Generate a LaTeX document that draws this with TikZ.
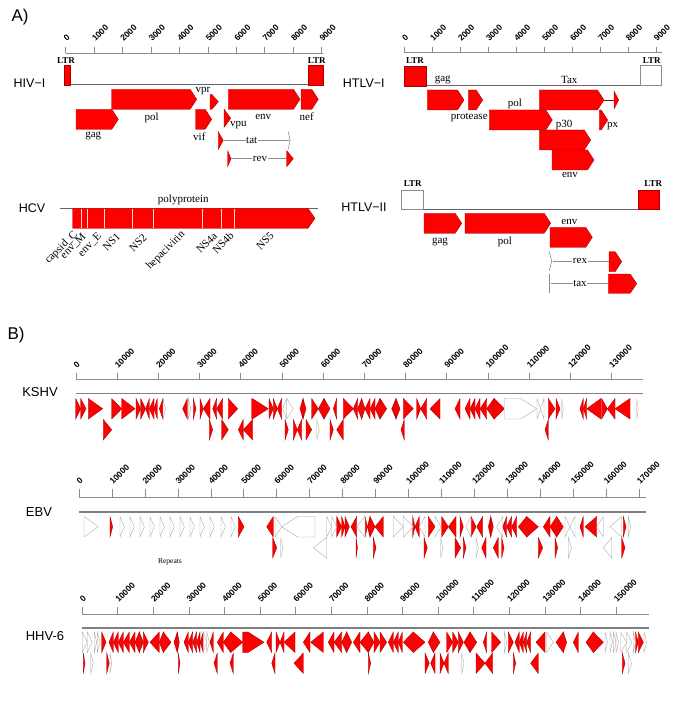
\documentclass[tikz,border=0pt]{standalone}
\usepackage{fontspec}
\setmainfont{Liberation Serif}
\setsansfont{Liberation Sans}
\newcommand{\arR}[6]{%
  \pgfmathsetmacro{\hx}{max(#1,#2-#5)}%
  \pgfmathsetmacro{\ym}{#3+#4/2}\pgfmathsetmacro{\yb}{#3+#4}%
  \filldraw[fill=#6,draw=#6!65!black,line width=0.35pt] (#1,#3) -- (\hx,#3) -- (#2,\ym) -- (\hx,\yb) -- (#1,\yb) -- cycle;}
\newcommand{\arL}[6]{%
  \pgfmathsetmacro{\hx}{min(#2,#1+#5)}%
  \pgfmathsetmacro{\ym}{#3+#4/2}\pgfmathsetmacro{\yb}{#3+#4}%
  \filldraw[fill=#6,draw=#6!65!black,line width=0.35pt] (#2,#3) -- (\hx,#3) -- (#1,\ym) -- (\hx,\yb) -- (#2,\yb) -- cycle;}
\newcommand{\oR}[4]{\arR{#1}{#2}{#3}{20.5}{16}{#4}}
\newcommand{\oL}[4]{\arL{#1}{#2}{#3}{20.5}{16}{#4}}
\newcommand{\gR}[3]{\arR{#1}{#2}{#3}{20}{6.5}{red}}
\begin{document}
\begin{tikzpicture}[x=1pt,y=-1pt,
  axln/.style={draw=black!45,line width=0.6pt},
  gline/.style={draw=black!60,line width=1pt},
  bgline/.style={draw=black!50,line width=1.8pt},
  glab/.style={font=\fontsize{11}{12}\selectfont,inner sep=0.5pt},
  tlab/.style={font=\sffamily\bfseries\fontsize{8.5}{9}\selectfont,rotate=45,anchor=west,inner sep=0pt},
  vname/.style={font=\sffamily\fontsize{12.5}{14}\selectfont,inner sep=0pt},
  ltrlab/.style={font=\bfseries\fontsize{9}{10}\selectfont,inner sep=0pt},
  panel/.style={font=\sffamily\fontsize{17}{19}\selectfont,inner sep=0pt},
  redbox/.style={fill=red,draw=red!65!black,line width=0.35pt},
  whitebox/.style={fill=white,draw=black!45,line width=0.6pt},
  hcvlab/.style={font=\fontsize{11}{12}\selectfont,rotate=45,anchor=east,inner sep=0pt}]
\useasboundingbox (0,0) rectangle (685,708);
\fill[white] (0,0) rectangle (685,708);

\node[panel] (pa) at (20,17) {A)};
\node[panel] (pb) at (16,335) {B)};

% ---------------- HIV-I
\node[vname] (hivn) at (29.5,83.3) {HIV−I};
\draw[axln] (65.7,53.3) -- (323,53.3);
\foreach \i in {0,...,9}{
  \draw[axln] (65.7+\i*28.44,46.7) -- (65.7+\i*28.44,53.3);
  \node[tlab] (hivt\i) at (64.9+\i*28.44,40) {\ifnum\i=0 0\else\i000\fi};}
\node[ltrlab] (hivl1) at (66,61) {LTR};
\node[ltrlab] (hivl2) at (316.7,61) {LTR};
\draw[gline] (65.7,85) -- (323.3,85);
\filldraw[redbox] (64.3,65) rectangle (70,85);
\filldraw[redbox] (308.3,65) rectangle (323.3,85);
\gR{111.7}{196.7}{89.3}
\arR{210}{218.3}{94.3}{15}{6.5}{red}
\gR{228.3}{300}{89.3}
\gR{301}{318.3}{89.3}
\gR{76}{118.3}{109.3}
\gR{195.7}{211.7}{109.3}
\arR{224}{230.7}{109.3}{18}{6.5}{red}
\node[glab] (hgag) at (93.3,136) {gag};
\node[glab] (hpol) at (151.7,118.3) {pol};
\node[glab] (hvif) at (199.3,137) {vif};
\node[glab] (henv) at (263.3,116.7) {env};
\node[glab] (hnef) at (306.7,116.7) {nef};
\node[glab] (hvpu) at (238.3,125.5) {vpu};
\node[glab] (hvpr) at (203,91.5) {vpr};
\arR{218.3}{223.3}{131.7}{17.6}{6.5}{red}
\draw[draw=black!45,line width=0.5pt] (223.3,140.5) -- (288.5,140.5);
\draw[draw=black!45,line width=0.6pt] (288.3,131.7) -- (290,140.5) -- (288.3,149.3);
\node[glab,fill=white] (htat) at (251.7,140.5) {tat};
\arR{227.7}{231}{150.7}{16}{6.5}{red}
\draw[draw=black!45,line width=0.5pt] (231,158.7) -- (286.7,158.7);
\arR{286.7}{293.3}{150.7}{16}{6.5}{red}
\node[glab,fill=white] (hrev) at (260,158.7) {rev};

% ---------------- HTLV-I
\node[vname] (htn) at (363.8,83.3) {HTLV−I};
\draw[axln] (404.3,52.7) -- (661.7,52.7);
\foreach \i in {0,...,9}{
  \draw[axln] (404.3+\i*27.97,46.7) -- (404.3+\i*27.97,52.7);
  \node[tlab] (htt\i) at (403.5+\i*27.97,40) {\ifnum\i=0 0\else\i000\fi};}
\node[ltrlab] (htl1) at (415,61) {LTR};
\node[ltrlab] (htl2) at (651.7,61) {LTR};
\draw[gline] (404.3,85.7) -- (661.7,85.7);
\filldraw[redbox] (404.3,65.7) rectangle (426,85.7);
\filldraw[whitebox] (640,65.7) rectangle (661.7,85.7);
\gR{427.3}{464}{90}
\gR{468.3}{482.7}{90}
\gR{539.3}{604}{90}
\draw[draw=red!70!black,line width=0.5pt] (604,100) -- (614,100);
\arR{614}{618.7}{91}{18}{6.5}{red}
\gR{489.3}{552.3}{110}
\gR{599.3}{607.7}{110}
\gR{539.3}{590.7}{130}
\gR{552}{594}{150}
\node[glab] (tgag) at (442.7,80) {gag};
\node[glab] (ttax) at (569.3,80) {Tax};
\node[glab] (tprot) at (469.3,117.3) {protease};
\node[glab] (tpol) at (515,104) {pol};
\node[glab] (tpx) at (612.7,126.5) {px};
\node[glab] (tp30) at (564,125) {p30};
\node[glab] (tenv) at (570,175) {env};

% ---------------- HCV
\node[vname] (hcvn) at (32,208.3) {HCV};
\draw[gline] (60,208.3) -- (318.3,208.3);
\node[glab] (hcvpp) at (183.3,199.5) {polyprotein};
\arR{72.7}{315}{208.3}{20}{7}{red}
\foreach \x in {81.7,87.3,104,132.3,153.3,202.7,221.7,234.3}
  \draw[white!85!red,line width=0.9pt] (\x,209) -- (\x,227.8);
\node[hcvlab] (c1) at (76,233) {capsid\_C};
\node[hcvlab] (c2) at (84.5,235) {env\_M};
\node[hcvlab] (c3) at (100,235) {env\_E};
\node[hcvlab] (c4) at (118.5,235) {NS1};
\node[hcvlab] (c5) at (145,235.5) {NS2};
\node[hcvlab] (c6) at (183.5,233) {hepacivirin};
\node[hcvlab] (c7) at (215.5,234) {NS4a};
\node[hcvlab] (c8) at (232,234) {NS4b};
\node[hcvlab] (c9) at (272,234) {NS5};

% ---------------- HTLV-II
\node[vname] (ht2n) at (364,207.7) {HTLV−II};
\node[ltrlab] (h2l1) at (412.7,184) {LTR};
\node[ltrlab] (h2l2) at (653.3,184) {LTR};
\draw[gline] (401.7,209.3) -- (659,209.3);
\filldraw[whitebox] (401.7,190) rectangle (423.3,209.3);
\filldraw[redbox] (637.7,190) rectangle (659,209.3);
\gR{424}{461.7}{213.3}
\gR{465}{550.7}{213.3}
\gR{550}{592.3}{227.3}
\node[glab] (h2gag) at (440,241.7) {gag};
\node[glab] (h2pol) at (505,241.7) {pol};
\node[glab] (h2env) at (569.3,221.7) {env};
\draw[draw=black!45,line width=0.6pt] (549.3,251.7) -- (551.7,261) -- (549.3,270.7);
\draw[draw=black!45,line width=0.5pt] (553,261) -- (609,261);
\arR{609}{621.7}{251.7}{20}{6.5}{red}
\node[glab,fill=white] (h2rex) at (580,261) {rex};
\draw[draw=black!45,line width=0.6pt] (549.3,274) -- (549.3,293.3);
\draw[draw=black!45,line width=0.5pt] (551,283.6) -- (608.3,283.6);
\arR{608.3}{636.7}{274}{19.3}{6.5}{red}
\node[glab,fill=white] (h2tax) at (580,283.6) {tax};

% ---------------- KSHV
\node[vname,font=\sffamily\fontsize{13}{15}\selectfont] (kn) at (40,392.5) {KSHV};
\draw[axln] (75.9,379.3) -- (643.3,379.3);
\foreach \i in {0,...,13}{
  \draw[axln] (75.9+\i*41.2,372.7) -- (75.9+\i*41.2,379.3);
  \node[tlab] (kt\i) at (74.9+\i*41.2,366.5) {\ifnum\i=0 0\else\i0000\fi};}
\draw[bgline] (75.9,393.5) -- (643.3,393.5);
\foreach \xa/\xb/\xp in {75.7/80.7/R, 80.7/86/R, 88.3/102.7/R, 111.7/121.7/R, 121.7/135/R, 136/140.7/R, 140.7/145.7/R, 145.7/149.3/L, 149.3/154/L, 154/157.3/L, 159.3/163/L, 182.7/187.3/L, 193.3/196/R, 200/203.3/R, 203.3/210/L, 212.7/216.7/L, 216.7/222.7/L, 228.3/237.7/R, 251.7/268.3/R, 269/273.3/R, 273.3/277.3/R, 277.3/281.7/L, 300/303/L, 303/306/R, 311.7/318.3/R, 318.3/324/L, 324/330/R, 333.3/336.7/L, 343.3/353.3/R, 353.3/357.7/L, 357.7/361.7/L, 361.7/365/R, 365/370/L, 370/375/L, 375/380/L, 380/386.7/R, 391.7/396/L, 396/400/R, 403.3/413.3/R, 416.7/420.7/R, 420.7/426.7/L, 430/440/L, 455/460/L, 465/470/L, 470/475/L, 475/480/L, 480/486.7/L, 486.7/494/L, 494/504.3/R, 548.3/555/R, 556/560/R, 580/583.3/L, 583.3/586.7/L, 586.7/601/L, 601.7/607.3/R, 607.3/615/L, 615/630/L}
  {\csname o\xp\endcsname{\xa}{\xb}{398.5}{red}}
\foreach \xa/\xb/\xp in {163/165.5/R, 188.3/190.7/R, 282.7/286.7/L, 286.7/293.3/R, 504.3/536.7/R, 537/540.5/R, 540.5/544/L, 561.7/563.3/R, 636.7/638.3/R}
  {\csname o\xp\endcsname{\xa}{\xb}{398.5}{white}}
\foreach \xa/\xb/\xp in {103.3/111.7/R, 209.3/212.7/R, 221.7/228.3/R, 238.3/243.3/L, 243.3/252.7/L, 285/288.3/R, 293.3/297.3/R, 297.3/301.7/L, 306/311.7/R, 330/333.3/R, 336.7/343.3/L, 401/404.3/L, 545/548.3/L}
  {\csname o\xp\endcsname{\xa}{\xb}{419.5}{red}}
\oR{316.7}{319.3}{419.5}{white}

% ---------------- EBV
\node[vname,font=\sffamily\fontsize{13}{15}\selectfont] (en) at (39,512.5) {EBV};
\draw[axln] (79,497.3) -- (646,497.3);
\foreach \i in {0,...,17}{
  \draw[axln] (79+\i*32.95,489.3) -- (79+\i*32.95,497.3);
  \node[tlab] (et\i) at (78+\i*32.95,483) {\ifnum\i=0 0\else\i0000\fi};}
\draw[bgline] (79,511.7) -- (646,511.7);
\foreach \xa/\xb/\xp in {110/112.7/R, 238.3/244/R, 266.7/273.3/L, 336.7/341.7/R, 341.7/345/R, 345/349.3/R, 351/356.7/L, 365/367.5/R, 367.5/370/L, 370/375/R, 375/383.3/L, 412.7/415/R, 415/419.3/L, 428.3/435/R, 441.7/448.3/R, 448.3/456/L, 460/463.3/R, 471/476/R, 476.7/482.7/L, 488.3/490.8/L, 490.8/493.3/R, 502.7/506.7/L, 506.7/511.7/L, 511.7/516.7/L, 518.3/526.7/L, 526.7/538.3/R, 543.3/550/L, 550/556.7/L, 556.7/563.3/R, 580/583.3/L, 585/596.7/L, 623.3/626/R}
  {\csname o\xp\endcsname{\xa}{\xb}{516.5}{red}}
\foreach \xa/\xb/\xp in {84/98.3/R, 120/124.3/R, 130/134.3/R, 140/144.3/R, 150/154.3/R, 160/164.3/R, 170/174.3/R, 180/184.3/R, 190/194.3/R, 200/204.3/R, 210/214.3/R, 221/225.3/R, 231/235.3/R, 275/281.7/R, 281.7/315/L, 326.7/331.7/R, 331.7/336.7/R, 356.7/365/L, 393.3/403.3/R, 403.3/413.3/R, 419.3/425/L, 435/441/R, 466/471/L, 496.7/502.7/L, 565/570/R, 570/575/L, 596.7/603.3/L, 610/621.7/L, 628.3/630.7/R}
  {\csname o\xp\endcsname{\xa}{\xb}{516.5}{white}}
\foreach \xa/\xb/\xp in {272.7/276.7/R, 356/357.5/R, 373.3/376/R, 424/427.3/R, 455/460.7/R, 463.3/466/R, 481.7/486/L, 493.3/498.3/L, 501.7/504/R, 538.3/542.7/R, 555/557.7/R, 621.7/625/R}
  {\csname o\xp\endcsname{\xa}{\xb}{537.5}{red}}
\foreach \xa/\xb/\xp in {280.7/282.7/R, 313.3/326.7/L, 440.7/442.7/R, 476/478.3/R, 568.3/571.7/R, 603.3/611.7/L}
  {\csname o\xp\endcsname{\xa}{\xb}{537.5}{white}}
\node[font=\fontsize{7.5}{8}\selectfont] (rep) at (170,561.7) {Repeats};

% ---------------- HHV-6
\node[vname,font=\sffamily\fontsize{13}{15}\selectfont] (hhn) at (45,636) {HHV-6};
\draw[axln] (82.1,614.3) -- (649.3,614.3);
\foreach \i in {0,...,15}{
  \draw[axln] (82.1+\i*35.6,607.3) -- (82.1+\i*35.6,614.3);
  \node[tlab] (ht\i) at (81.1+\i*35.6,601) {\ifnum\i=0 0\else\i0000\fi};}
\draw[bgline] (82.1,627.7) -- (649.3,627.7);
\foreach \xa/\xb/\xp in {101.7/106/R, 109/113.3/L, 113.3/118.3/L, 118.3/123.3/L, 123.3/129.3/L, 129.3/135/L, 135/139.3/L, 139.3/143.3/R, 143.3/148.3/R, 150/159.3/L, 159.3/163.3/L, 163.3/171/R, 174/177.3/L, 177.3/179.3/R, 184/188.3/L, 188.3/192.7/L, 192.7/196.7/L, 196.7/200/L, 200/203.3/L, 210/213.3/L, 217.3/223.3/L, 223.3/230.7/L, 230.7/242.7/R, 242.7/264/R, 266.7/271.7/L, 276/280/R, 280/284/L, 284/295/L, 303.3/310/L, 310.7/323.3/L, 328.3/334/L, 334/341.7/L, 341.7/346.7/L, 346.7/351.7/R, 353.3/360/L, 360/368.3/L, 368.3/374/R, 374/380/R, 380/386.7/R, 388.3/393.3/L, 393.3/398.3/L, 398.3/402.3/L, 403.3/413.3/L, 413.3/425/R, 428.3/433.3/L, 433.3/440/R, 446.7/452.7/R, 452.7/458.3/R, 458.3/463.3/R, 464/470/L, 470/476.7/R, 483.3/486.7/L, 491.7/500.7/R, 508.3/513.3/R, 515/519.3/L, 519.3/523.3/L, 523.3/526.7/L, 526.7/530.7/L, 536/545/L, 556/563.3/L, 563.3/566.7/R, 573.3/578.3/L, 586/593.3/L, 593.3/603.3/R, 635.5/638.3/R, 638.3/643.3/R}
  {\csname o\xp\endcsname{\xa}{\xb}{632}{red}}
\foreach \xa/\xb/\xp in {82.3/87.3/R, 87.3/92.3/R, 94.3/96.7/R, 97.3/100/R, 203.3/206.7/R, 206.7/209.3/R, 504.3/506.7/R, 546.7/553.3/R, 605/607.5/R, 610/612.5/R, 613.3/616/R, 616/618.5/R, 620.7/626.7/R, 626.7/631.7/R, 633.3/635.5/R, 644/646.7/R}
  {\csname o\xp\endcsname{\xa}{\xb}{632}{white}}
\foreach \xa/\xb/\xp in {83.3/85/R, 106.7/109.3/R, 178.3/180/R, 214/217.3/L, 230/233.3/L, 271.7/275/L, 294/303.3/L, 368.3/370.7/R, 425/429.3/R, 430.7/435/L, 440/444/R, 444/448.3/L, 476/485/R, 485/492.7/L, 513.3/515.7/R, 530.7/538.3/L, 622.3/625/R}
  {\csname o\xp\endcsname{\xa}{\xb}{653}{red}}
\foreach \xa/\xb/\xp in {90.7/93.3/R, 110/111.7/R, 461.7/464/R, 628.3/631.7/R}
  {\csname o\xp\endcsname{\xa}{\xb}{653}{white}}
\end{tikzpicture}
\end{document}
